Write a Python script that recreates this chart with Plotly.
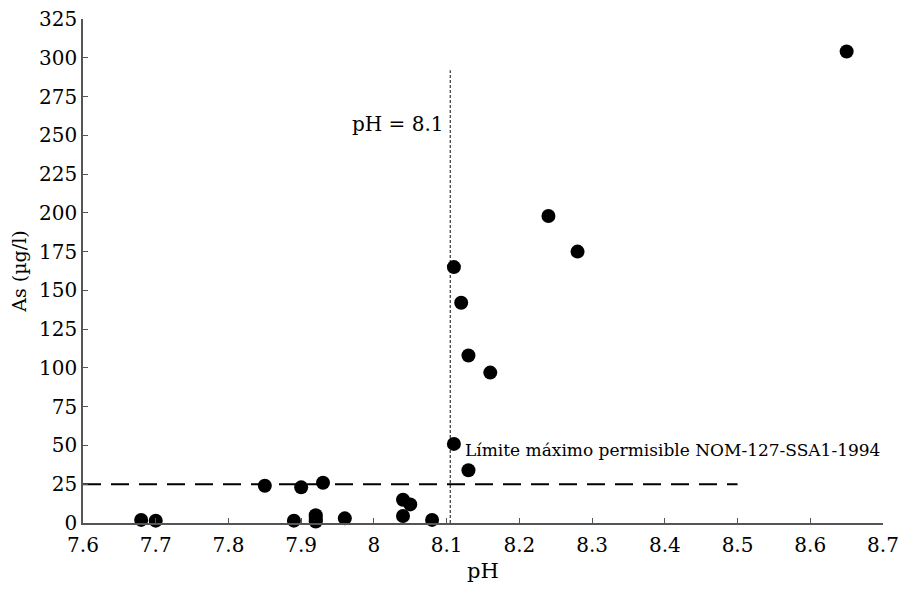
import plotly.graph_objects as go

ph = [7.68, 7.70, 7.85, 7.90, 7.93, 7.89, 7.92, 7.92, 7.92, 7.92, 7.96,
      8.04, 8.05, 8.04, 8.08, 8.11, 8.13, 8.11, 8.12, 8.13, 8.16, 8.24, 8.28, 8.65]
arsenic = [2, 1.5, 24, 23, 26, 1.5, 5, 3.5, 2, 1, 3,
           15, 12, 4.5, 2, 51, 34, 165, 142, 108, 97, 198, 175, 304]

limit_value = 25
limit_x = [7.6, 8.5]
ph_line = 8.105
ph_line_top = 292

x_ticks = [7.6, 7.7, 7.8, 7.9, 8.0, 8.1, 8.2, 8.3, 8.4, 8.5, 8.6, 8.7]
x_tick_text = ["7.6", "7.7", "7.8", "7.9", "8", "8.1", "8.2", "8.3", "8.4", "8.5", "8.6", "8.7"]
y_ticks = list(range(0, 326, 25))

font_family = "DejaVu Serif"

fig = go.Figure()
fig.add_trace(go.Scatter(
    x=limit_x, y=[limit_value, limit_value], mode="lines",
    line=dict(color="black", width=2, dash="18px,10px"), hoverinfo="skip"))
fig.add_trace(go.Scatter(
    x=[ph_line, ph_line], y=[0, ph_line_top], mode="lines",
    line=dict(color="#333333", width=1.2, dash="3px,2px"), hoverinfo="skip"))
fig.add_trace(go.Scatter(
    x=ph, y=arsenic, mode="markers", cliponaxis=False,
    marker=dict(color="black", size=14, line=dict(width=0))))

fig.add_annotation(x=ph_line, y=257, xref="x", yref="y", text="pH = 8.1",
                   showarrow=False, xanchor="right", xshift=-4,
                   font=dict(family=font_family, size=20, color="black"))
fig.add_annotation(x=8.12, y=47, xref="x", yref="y",
                   text="Límite máximo permisible NOM-127-SSA1-1994",
                   showarrow=False, xanchor="left", xshift=2,
                   font=dict(family=font_family, size=17, color="black"))

axis_common = dict(showgrid=False, zeroline=False, showline=True, automargin=False,
                   linecolor="#555555", linewidth=1.5, ticks="inside",
                   tickcolor="#555555", ticklen=5, tickwidth=1,
                   ticklabeloverflow="allow",
                   tickfont=dict(family=font_family, size=20, color="black"))

fig.update_xaxes(range=[7.6, 8.7], tickvals=x_ticks, ticktext=x_tick_text,
                 ticklabelstandoff=3,
                 title=dict(text="pH", font=dict(family=font_family, size=21, color="black"), standoff=8),
                 **axis_common)
fig.update_yaxes(range=[0, 325], tickvals=y_ticks,
                 title=dict(text="As (µg/l)", font=dict(family=font_family, size=19, color="black"), standoff=16),
                 **axis_common)

fig.update_layout(width=912, height=593, showlegend=False,
                  plot_bgcolor="white", paper_bgcolor="white",
                  margin=dict(l=75, r=37, t=11, b=78))

fig.write_html("out.html")
